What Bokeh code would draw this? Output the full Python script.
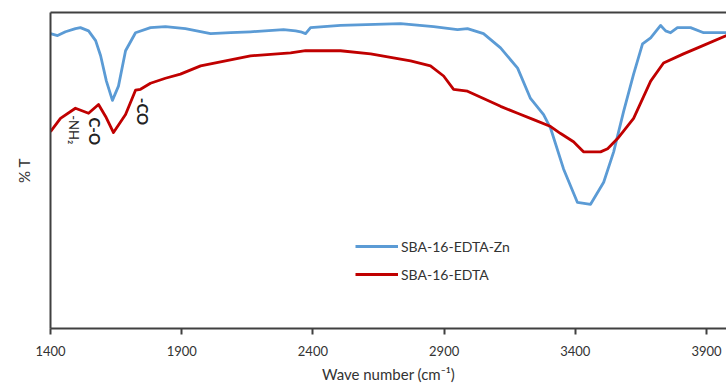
import numpy as np
from bokeh.plotting import figure
from bokeh.models import Range1d, LinearAxis, FixedTicker, Legend, LegendItem, Label
from bokeh.embed import file_html
from bokeh.resources import INLINE

# --- data ---
zn_wave = [1400, 1427, 1457, 1495, 1514, 1545, 1572, 1591, 1613, 1636, 1659, 1686, 1724, 1781,
           1838, 1914, 2010, 2086, 2162, 2288, 2334, 2353, 2372, 2391, 2505, 2734, 2860, 2951,
           2989, 3050, 3115, 3180, 3229, 3279, 3306, 3355, 3408, 3458, 3508, 3546, 3584, 3622,
           3656, 3687, 3725, 3744, 3763, 3789, 3839, 3889, 3976]
zn_T = [93.3, 92.7, 93.9, 94.9, 95.2, 94.2, 91.1, 86.3, 78.3, 72.2, 76.7, 87.9, 93.6, 95.2,
        95.5, 94.9, 93.3, 93.6, 93.9, 94.6, 94.2, 93.9, 93.3, 95.2, 95.9, 96.5, 95.5, 94.6,
        94.9, 93.3, 88.8, 82.4, 72.8, 67.7, 63.3, 50.5, 39.9, 39.3, 46.3, 55.9, 68.7, 80.5,
        90.1, 92.0, 95.9, 94.2, 93.6, 95.2, 95.2, 93.6, 93.6]

edta_wave = [1400, 1438, 1495, 1545, 1583, 1610, 1640, 1686, 1724, 1743, 1781, 1838, 1895,
             1972, 2067, 2162, 2315, 2372, 2505, 2620, 2772, 2848, 2898, 2936, 2989, 3050,
             3115, 3180, 3241, 3306, 3344, 3393, 3431, 3496, 3523, 3561, 3622, 3687, 3736,
             3812, 3866, 3976]
edta_T = [62.3, 66.5, 69.7, 68.1, 70.9, 67.1, 62.0, 67.7, 75.4, 75.7, 77.6, 79.2, 80.5,
          83.1, 84.7, 86.3, 87.2, 87.9, 87.9, 86.9, 84.7, 83.1, 79.9, 75.7, 75.1, 72.8,
          70.3, 68.1, 66.1, 63.9, 61.7, 59.1, 55.9, 55.9, 56.9, 60.1, 66.5, 78.3, 84.0,
          86.9, 88.8, 92.7]

x_ticks = [1400, 1900, 2400, 2900, 3400, 3900]
series_names = ["SBA-16-EDTA-Zn", "SBA-16-EDTA"]
annot_text = ["-NH\u2082", "C-O", "-CO"]
annot_wave = [1488, 1570, 1752]
annot_T = [67.5, 66.8, 73.0]

FONT = "Lato"
AX = "#404040"

p = figure(width=726, height=385, output_backend="svg", toolbar_location=None,
           x_range=Range1d(1400, 3976), y_range=Range1d(0, 100),
           min_border_left=50, min_border_right=0, min_border_top=12, min_border_bottom=0)
p.background_fill_color = "white"
p.outline_line_color = None
p.grid.visible = False

# x axis
xa = p.xaxis[0]
xa.ticker = FixedTicker(ticks=x_ticks)
xa.axis_line_color = AX
xa.axis_line_width = 2
xa.major_tick_line_color = AX
xa.major_tick_line_width = 2
xa.major_tick_in = 0
xa.major_tick_out = 6
xa.minor_tick_line_color = None
xa.major_label_text_font = FONT
xa.major_label_text_font_size = "13px"
xa.major_label_text_color = "#333333"
xa.major_label_standoff = 11
xa.axis_label = "Wave number (cm\u207b\u00b9)"
xa.axis_label_text_font = FONT
xa.axis_label_text_font_size = "15px"
xa.axis_label_text_font_style = "normal"
xa.axis_label_text_color = "#333333"
xa.axis_label_standoff = 6

# y axis
ya = p.yaxis[0]
ya.ticker = FixedTicker(ticks=[])
ya.axis_line_color = AX
ya.axis_line_width = 2
ya.major_tick_line_color = None
ya.minor_tick_line_color = None
ya.major_label_text_font_size = "0px"
ya.axis_label = "% T"
ya.axis_label_text_font = FONT
ya.axis_label_text_font_size = "15px"
ya.axis_label_text_font_style = "normal"
ya.axis_label_text_color = "#333333"
ya.axis_label_standoff = 18

# top frame line
top = LinearAxis(ticker=FixedTicker(ticks=[]), axis_line_color=AX, axis_line_width=2,
                 major_tick_line_color=None, minor_tick_line_color=None,
                 major_label_text_font_size="0px", major_tick_in=0, major_tick_out=0)
p.add_layout(top, "above")

r1 = p.line(zn_wave, zn_T, line_color="#5B9BD5", line_width=2.8, line_join="round")
r2 = p.line(edta_wave, edta_T, line_color="#C00000", line_width=2.8, line_join="round")

legend = Legend(items=[LegendItem(label=series_names[0], renderers=[r1]),
                       LegendItem(label=series_names[1], renderers=[r2])],
                location=(305, 44), orientation="vertical",
                glyph_width=43, glyph_height=20, label_height=20, spacing=8,
                padding=0, margin=0, label_standoff=3,
                border_line_color=None, background_fill_alpha=0,
                label_text_font=FONT, label_text_font_size="14px",
                label_text_color="#333333")
p.add_layout(legend, "center")

sizes = ["13px", "15px", "15px"]
styles = ["normal", "bold", "bold"]
for t, w, v, s, st in zip(annot_text, annot_wave, annot_T, sizes, styles):
    p.add_layout(Label(x=w, y=v, text=t, angle=-np.pi / 2, text_align="left",
                       text_baseline="middle", text_font=FONT, text_font_size=s,
                       text_font_style=st, text_color="#222222"))

open("out.html", "w").write(file_html(p, INLINE))
